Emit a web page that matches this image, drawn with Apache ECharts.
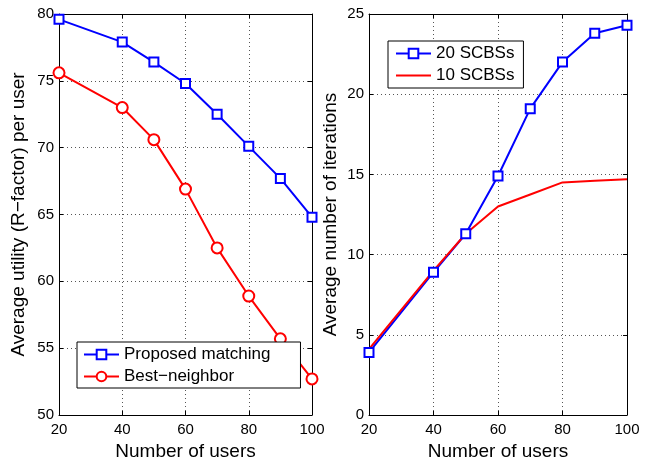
<!DOCTYPE html>
<html><head><meta charset="utf-8">
<script src="https://cdn.jsdelivr.net/npm/echarts@6/dist/echarts.min.js"></script>
<style>html,body{margin:0;padding:0;background:#fff}#c{width:660px;height:459px}</style>
</head><body><div id="c"></div>
<script>
const users = [20, 40, 50, 60, 70, 80, 90, 100];
const proposed = [79.6, 77.9, 76.4, 74.8, 72.5, 70.1, 67.7, 64.8];
const bestNeighbor = [75.6, 73.0, 70.6, 66.9, 62.5, 58.9, 55.7, 52.7];
const scbs20 = [3.9, 8.9, 11.3, 14.9, 19.1, 22.0, 23.8, 24.3];
const scbs10 = [4.1, 9.0, 11.3, 13.0, 13.75, 14.5, 14.6, 14.7];

const F = 'Liberation Sans, Arial, sans-serif';
const pairs = (xs, ys) => xs.map((x, i) => [x, ys[i]]);
const split = {show: true, lineStyle: {color: '#555', type: [1, 3], width: 1}};
function xAx(gi, top) {
  return {type: 'value', gridIndex: gi, min: 20, max: 100, interval: 20, position: top ? 'top' : 'bottom',
    name: top ? '' : 'Number of users', nameLocation: 'middle', nameGap: 21,
    nameTextStyle: {fontFamily: F, fontSize: 19, color: '#000'},
    axisLine: {show: true, onZero: false, lineStyle: {color: '#000', width: 1}},
    axisTick: {show: true, inside: true, length: 4, lineStyle: {color: '#000'}},
    axisLabel: {show: !top, fontFamily: F, fontSize: 15, color: '#000', margin: 7},
    splitLine: top ? {show: false} : split};
}
function yAx(gi, min, max, iv, name, right) {
  return {type: 'value', gridIndex: gi, min: min, max: max, interval: iv, position: right ? 'right' : 'left',
    name: right ? '' : name, nameLocation: 'middle', nameGap: gi === 0 ? 31 : 29,
    nameTextStyle: {fontFamily: F, fontSize: 19, color: '#000'},
    axisLine: {show: true, onZero: false, lineStyle: {color: '#000', width: 1}},
    axisTick: {show: true, inside: true, length: 4, lineStyle: {color: '#000'}},
    axisLabel: {show: !right, fontFamily: F, fontSize: 15, color: '#000', margin: 5},
    splitLine: right ? {show: false} : split};
}
const chart = echarts.init(document.getElementById('c'));
chart.setOption({
  backgroundColor: '#fff',
  animation: false,
  grid: [
    {left: 59, right: 348, top: 14, bottom: 44, containLabel: false, outerBoundsMode: 'none'},
    {left: 369, right: 33, top: 14, bottom: 44, containLabel: false, outerBoundsMode: 'none'}
  ],
  xAxis: [xAx(0, false), xAx(1, false), xAx(0, true), xAx(1, true)],
  yAxis: [
    yAx(0, 50, 80, 5, 'Average utility (R\u2212factor) per user', false),
    yAx(1, 0, 25, 5, 'Average number of iterations', false),
    yAx(0, 50, 80, 5, '', true),
    yAx(1, 0, 25, 5, '', true)
  ],
  legend: [
    {data: ['Proposed matching', 'Best\u2212neighbor'], left: 77, top: 342, orient: 'vertical',
     itemWidth: 35, itemHeight: 12, itemGap: 5,
     padding: [4, 30, 3, 6], borderColor: '#000', borderWidth: 1, backgroundColor: '#fff',
     textStyle: {fontFamily: F, fontSize: 17, lineHeight: 17, color: '#000'}},
    {data: ['20 SCBSs', {name: '10 SCBSs', itemStyle: {opacity: 0}}], left: 388, top: 41, orient: 'vertical',
     itemWidth: 35, itemHeight: 12, itemGap: 5,
     padding: [4, 9, 4, 7], borderColor: '#000', borderWidth: 1, backgroundColor: '#fff',
     textStyle: {fontFamily: F, fontSize: 17, lineHeight: 17, color: '#000'}}
  ],
  series: [
    {name: 'Proposed matching', type: 'line', xAxisIndex: 0, yAxisIndex: 0, data: pairs(users, proposed),
     symbol: 'rect', symbolSize: 9, lineStyle: {color: '#0000ff', width: 2},
     itemStyle: {color: '#fff', borderColor: '#0000ff', borderWidth: 2}},
    {name: 'Best\u2212neighbor', type: 'line', xAxisIndex: 0, yAxisIndex: 0, data: pairs(users, bestNeighbor),
     symbol: 'circle', symbolSize: 11, lineStyle: {color: '#ff0000', width: 2},
     itemStyle: {color: '#fff', borderColor: '#ff0000', borderWidth: 2}},
    {name: '20 SCBSs', type: 'line', xAxisIndex: 1, yAxisIndex: 1, data: pairs(users, scbs20),
     symbol: 'rect', symbolSize: 9, lineStyle: {color: '#0000ff', width: 2},
     itemStyle: {color: '#fff', borderColor: '#0000ff', borderWidth: 2}},
    {name: '10 SCBSs', type: 'line', xAxisIndex: 1, yAxisIndex: 1, data: pairs(users, scbs10),
     symbol: 'none', lineStyle: {color: '#ff0000', width: 2},
     itemStyle: {color: '#ff0000'}}
  ]
});
</script></body></html>
